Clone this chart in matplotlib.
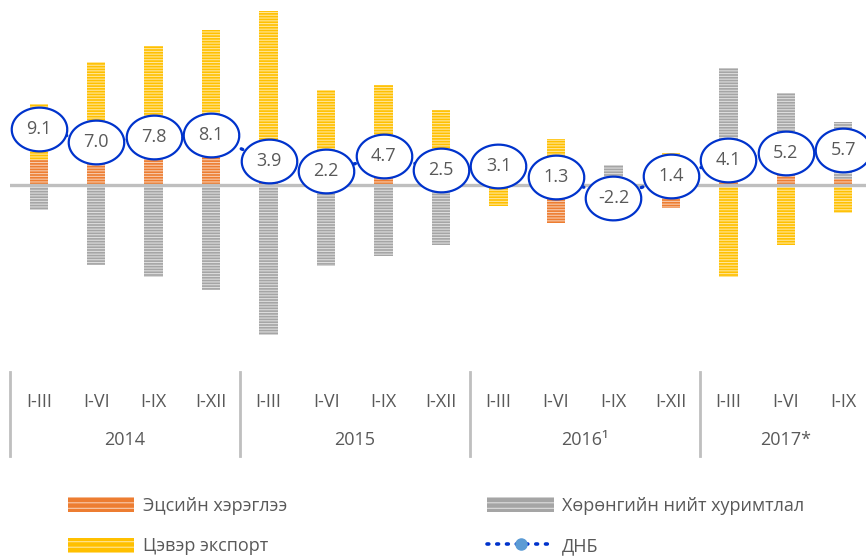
import numpy as np
import matplotlib
matplotlib.use('Agg')
import matplotlib.pyplot as plt
from matplotlib.lines import Line2D
from matplotlib.patches import Patch

plt.rcParams['font.family'] = ['Open Sans', 'DejaVu Sans']
plt.rcParams['hatch.linewidth'] = 0.8

# data (contribution to GDP growth, pp)
cats = ['I-III', 'I-VI', 'I-IX', 'I-XII'] * 3 + ['I-III', 'I-VI', 'I-IX']
years = ['2014', '2015', '2016¹', '2017*']
year_sizes = [4, 4, 4, 3]
consumption = [4.0, 3.6, 4.4, 4.6, 0.3, 0.2, 1.2, 0.5, 2.0, -6.2, -3.5, -3.8, 1.5, 1.7, 1.0]
investment = [-4.1, -13.1, -15.1, -17.2, -24.6, -13.4, -11.6, -9.8, 4.5, 0.0, 3.3, 1.0, 17.7, 13.4, 9.3]
net_export = [9.2, 16.6, 18.4, 20.7, 28.2, 15.4, 15.1, 11.8, -3.4, 7.5, -2.0, 4.2, -15.1, -9.9, -4.6]
gdp = [9.1, 7.0, 7.8, 8.1, 3.9, 2.2, 4.7, 2.5, 3.1, 1.3, -2.2, 1.4, 4.1, 5.2, 5.7]

names = ['Эцсийн хэрэглээ', 'Хөрөнгийн нийт хуримтлал', 'Цэвэр экспорт', 'ДНБ']
face = ['#ED7D31', '#A5A5A5', '#FFC000']
stripe = ['#F8CBAD', '#DDDDDD', '#FFE699']

W, H = 866, 556
fig = plt.figure(figsize=(W / 100, H / 100), dpi=100)
ax = fig.add_axes([10 / W, 1 - 372 / H, 862 / W, 372 / H])

x = np.arange(len(cats))
pos_base = np.zeros(len(x))
neg_base = np.zeros(len(x))
handles = []
for vals, fc, sc, nm in zip([consumption, investment, net_export], face, stripe, names[:3]):
    v = np.array(vals)
    bottom = np.where(v >= 0, pos_base, neg_base)
    ax.bar(x, v, 0.32, bottom=bottom, color=fc, edgecolor=sc, linewidth=0,
           hatch='------', zorder=2)
    pos_base += np.where(v >= 0, v, 0)
    neg_base += np.where(v < 0, v, 0)
    handles.append(Patch(facecolor=fc, edgecolor=sc, linewidth=0, hatch='---', label=nm))

ax.axhline(0, color='#BFBFBF', lw=2.4, zorder=2.5)

# GDP line with ellipse labels
t = np.linspace(0, 2 * np.pi, 60)
ell = np.column_stack([1.27 * np.cos(t), np.sin(t)])
ax.plot(x, gdp, ls=(0, (0.5, 2.2)), dash_capstyle='round', color='#0033CC', lw=2.4, zorder=3)
ax.plot(x, gdp, ls='none', marker=ell, markersize=40, markerfacecolor='white',
        markeredgecolor='#0033CC', markeredgewidth=1.6, zorder=4)
for xi, g in zip(x, gdp):
    ax.text(xi, g, '%.1f' % g, ha='center', va='center', fontsize=13,
            color='#595959', zorder=5)
gdp_handle = Line2D([], [], ls=(0, (0.5, 2.2)), dash_capstyle='round', color='#0033CC',
                    lw=2.6, marker='o', markersize=8, markerfacecolor='#5B9BD5',
                    markeredgecolor='#5B9BD5', label=names[3])

ax.set_xlim(-0.5, len(cats) - 0.5)
ax.set_ylim(-30.7, 30.3)
ax.set_yticks([])
ax.set_xticks(x, cats)
ax.tick_params(axis='x', length=0, pad=15, labelsize=13, labelcolor='#595959')
for s in ax.spines.values():
    s.set_visible(False)

# group separators and year labels
tr = ax.get_xaxis_transform()
edges = np.concatenate([[0], np.cumsum(year_sizes)]) - 0.5
for e in edges[:-1]:
    ax.plot([e, e], [0, -0.225], color='#BFBFBF', lw=2, transform=tr, clip_on=False)
for i, yr in enumerate(years):
    c = (edges[i] + edges[i + 1]) / 2
    ax.text(c, -0.183, yr, transform=tr, ha='center', va='center', fontsize=13,
            color='#595959')

fig.legend(handles=[handles[0], handles[2], handles[1], gdp_handle], ncol=2,
           loc='center', bbox_to_anchor=(436 / W, 1 - 526 / H), frameon=False,
           fontsize=13, handlelength=3.7, handleheight=0.9, labelspacing=1.25,
           columnspacing=11.1, handletextpad=0.45, labelcolor='#595959')

fig.savefig('out.png', dpi=100)
